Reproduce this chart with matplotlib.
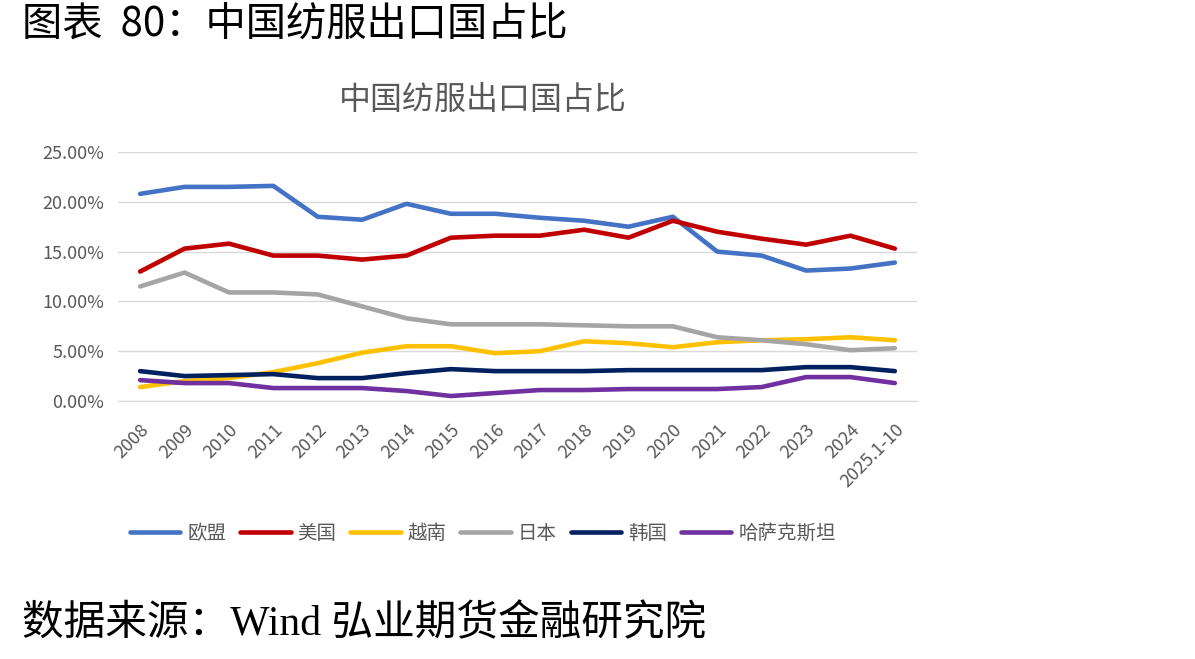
import matplotlib.pyplot as plt
from matplotlib.ticker import PercentFormatter

plt.rcParams['font.family'] = ['Noto Sans CJK SC', 'DejaVu Sans']

years = ['2008', '2009', '2010', '2011', '2012', '2013', '2014', '2015', '2016',
         '2017', '2018', '2019', '2020', '2021', '2022', '2023', '2024', '2025.1-10']

eu = [20.8, 21.5, 21.5, 21.6, 18.5, 18.2, 19.8, 18.8, 18.8,
      18.4, 18.1, 17.5, 18.5, 15.0, 14.6, 13.1, 13.3, 13.9]
us = [13.0, 15.3, 15.8, 14.6, 14.6, 14.2, 14.6, 16.4, 16.6,
      16.6, 17.2, 16.4, 18.1, 17.0, 16.3, 15.7, 16.6, 15.3]
vietnam = [1.4, 2.0, 2.3, 2.9, 3.8, 4.85, 5.5, 5.5, 4.8,
           5.0, 6.0, 5.8, 5.4, 5.9, 6.1, 6.2, 6.4, 6.1]
japan = [11.5, 12.9, 10.9, 10.9, 10.7, 9.5, 8.3, 7.7, 7.7,
         7.7, 7.6, 7.5, 7.5, 6.4, 6.1, 5.7, 5.1, 5.3]
korea = [3.0, 2.5, 2.6, 2.7, 2.3, 2.3, 2.8, 3.2, 3.0,
         3.0, 3.0, 3.1, 3.1, 3.1, 3.1, 3.4, 3.4, 3.0]
kazakhstan = [2.1, 1.8, 1.8, 1.3, 1.3, 1.3, 1.0, 0.5, 0.8,
              1.1, 1.1, 1.2, 1.2, 1.2, 1.4, 2.4, 2.4, 1.8]

series = [
    ('欧盟', eu, '#4472C4'),
    ('美国', us, '#C00000'),
    ('越南', vietnam, '#FFC000'),
    ('日本', japan, '#A5A5A5'),
    ('韩国', korea, '#002060'),
    ('哈萨克斯坦', kazakhstan, '#7030A0'),
]

fig = plt.figure(figsize=(11.95, 6.59), dpi=100)
ax = fig.add_axes([0.0987, 0.3915, 0.6687, 0.3778])

x = range(len(years))
for name, vals, color in series:
    ax.plot(x, [v / 100 for v in vals], color=color, linewidth=3.3,
            solid_capstyle='round', solid_joinstyle='round', label=name)

ax.set_xlim(-0.5, len(years) - 0.5)
ax.set_ylim(0, 0.25)
ax.set_yticks([0, 0.05, 0.10, 0.15, 0.20, 0.25])
ax.yaxis.set_major_formatter(PercentFormatter(1.0, decimals=2))
ax.set_xticks(list(x))
ax.set_xticklabels(years, rotation=45, ha='right', va='top', rotation_mode='anchor')

ax.grid(axis='y', color='#D9D9D9', linewidth=1)
ax.set_axisbelow(True)
for s in ['top', 'right', 'left']:
    ax.spines[s].set_visible(False)
ax.spines['bottom'].set_color('#D9D9D9')
ax.tick_params(axis='both', length=0, colors='#595959', labelsize=13)
ax.tick_params(axis='y', pad=10)
ax.tick_params(axis='x', pad=14)

fig.text(0.404, 0.848, '中国纺服出口国占比', fontsize=23, color='#595959',
         ha='center', va='center')

fig.legend(loc='center', bbox_to_anchor=(0.404, 0.191), ncol=6, frameon=False,
           fontsize=14, handlelength=2.6, handletextpad=0.36, columnspacing=0.7,
           labelcolor='#595959')

fig.text(0.018, 0.963, '图表  80：中国纺服出口国占比', fontsize=29, fontweight='medium',
         va='center', ha='left')
fig.text(0.018, 0.052, '数据来源：Wind 弘业期货金融研究院', fontsize=30, fontweight='medium',
         va='center', ha='left', family=['Liberation Serif', 'Noto Sans CJK SC'])

fig.savefig('out.png', dpi=100)
